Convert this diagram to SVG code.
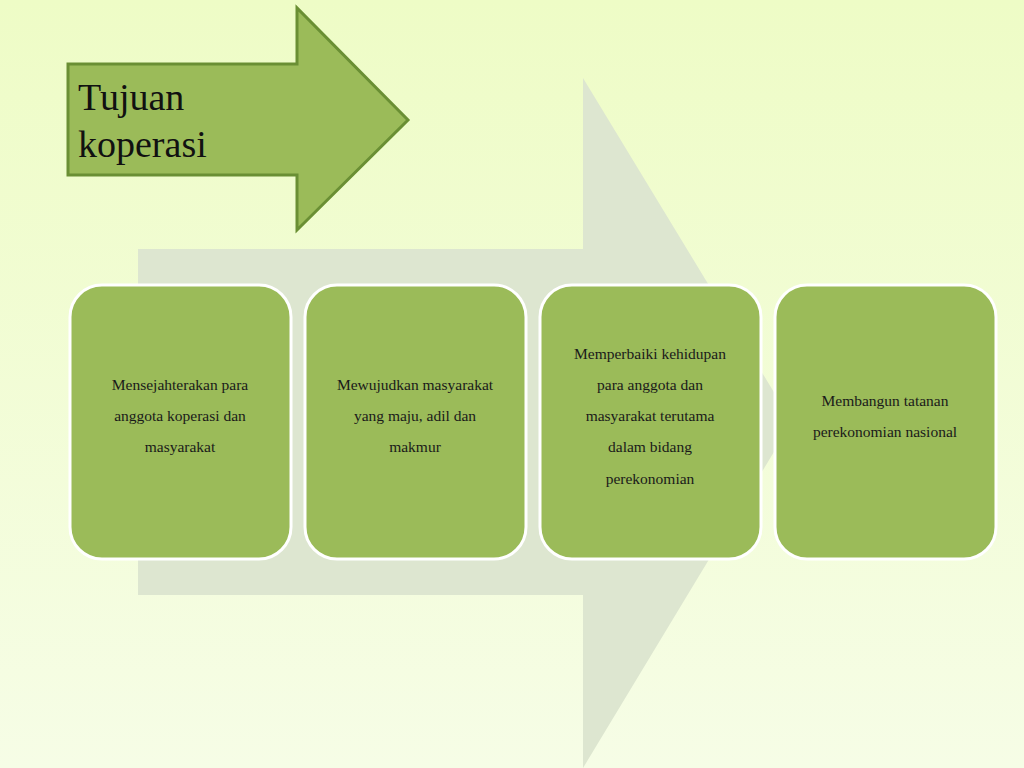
<svg xmlns="http://www.w3.org/2000/svg" width="1024" height="768" viewBox="0 0 1024 768">
<defs>
<linearGradient id="bg" x1="0" y1="0" x2="0" y2="1"><stop offset="0" stop-color="#eefcc6"/><stop offset="1" stop-color="#f6fde6"/></linearGradient>
<style>
.box{fill:#9bbb59;stroke:#ffffff;stroke-width:3}
.t{font-family:"Liberation Serif",serif;font-size:15.5px;fill:#1a1a1a;text-anchor:middle}
.title{font-family:"Liberation Serif",serif;font-size:38px;fill:#111}
</style>
</defs>
<rect width="1024" height="768" fill="url(#bg)"/>
<polygon points="138,249 583,249 583,78 792,422 583,768 583,595 138,595" fill="#dde6d0"/>
<g id="title">
<polygon points="68,64 297,64 297,8 408,120 297,230 297,175 68,175" fill="#9bbb59" stroke="#6a8f34" stroke-width="3"/>
<text class="title" x="78" y="110">Tujuan</text>
<text class="title" x="78" y="157">koperasi</text>
</g>
<g id="connectors"></g>
<g id="n1"><rect class="box" x="70" y="285" width="221" height="274" rx="32"/>
<text class="t" x="180" y="390">Mensejahterakan para</text><text class="t" x="180" y="421">anggota koperasi dan</text><text class="t" x="180" y="452">masyarakat</text></g>
<g id="n2"><rect class="box" x="305" y="285" width="221" height="274" rx="32"/>
<text class="t" x="415" y="390">Mewujudkan masyarakat</text><text class="t" x="415" y="421">yang maju, adil dan</text><text class="t" x="415" y="452">makmur</text></g>
<g id="n3"><rect class="box" x="540" y="285" width="221" height="274" rx="32"/>
<text class="t" x="650" y="359">Memperbaiki kehidupan</text><text class="t" x="650" y="390">para anggota dan</text><text class="t" x="650" y="421">masyarakat terutama</text><text class="t" x="650" y="452">dalam bidang</text><text class="t" x="650" y="484">perekonomian</text></g>
<g id="n4"><rect class="box" x="775" y="285" width="221" height="274" rx="32"/>
<text class="t" x="885" y="406">Membangun tatanan</text><text class="t" x="885" y="437">perekonomian nasional</text></g>
</svg>
